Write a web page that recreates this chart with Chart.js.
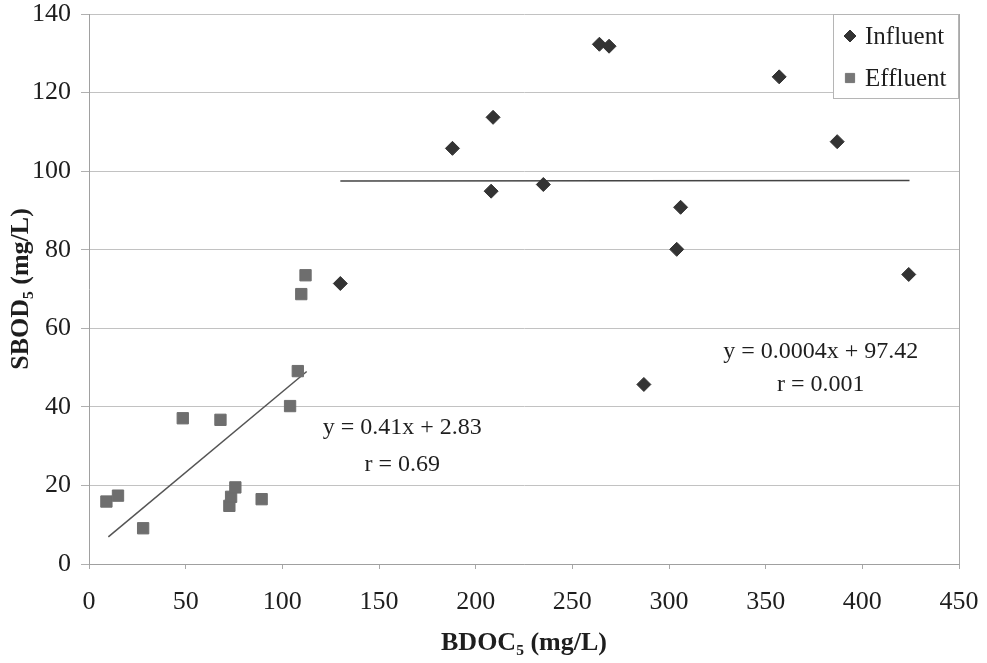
<!DOCTYPE html>
<html>
<head>
<meta charset="utf-8">
<script src="https://cdn.jsdelivr.net/npm/chart.js@4"></script>
<style>
  html, body { margin: 0; padding: 0; background: #fff; }
  canvas { display: block; }
</style>
</head>
<body>
<canvas id="chart" width="987" height="663"></canvas>
<script>
// Influent points (BDOC5, SBOD5)
const influentX = [130, 188, 208, 209, 235, 264, 269, 287, 304, 306, 357, 387, 424];
const influentY = [71.4, 105.8, 94.9, 113.7, 96.6, 132.3, 131.8, 45.7, 80.1, 90.8, 124, 107.5, 73.7];

// Effluent points
const effluentX = [9, 15, 28, 48.5, 68, 72.6, 73.5, 75.7, 89.3, 104, 108, 109.8, 112];
const effluentY = [15.9, 17.4, 9.1, 37.1, 36.7, 14.8, 17.1, 19.5, 16.5, 40.2, 49.1, 68.7, 73.5];

// trend line end points
const effluentTrendX = [10, 112.6];
const effluentTrendY = [6.9, 49];
const influentTrendX = [130, 424.4];
const influentTrendY = [97.5, 97.6];

const xTicks = [0, 50, 100, 150, 200, 250, 300, 350, 400, 450];
const yTicks = [0, 20, 40, 60, 80, 100, 120, 140];

const serif = "'Liberation Serif', 'Times New Roman', serif";

function toPoints(xs, ys) {
    return xs.map((x, i) => ({ x: x, y: ys[i] }));
}

// equations written next to the trend lines
const notes = [
    { x: 162, y: 34.6, text: 'y = 0.41x + 2.83' },
    { x: 162, y: 25.2, text: 'r = 0.69' },
    { x: 378.5, y: 54, text: 'y = 0.0004x + 97.42' },
    { x: 378.5, y: 45.6, text: 'r = 0.001' }
];

const extras = {
    id: 'extras',
    afterDatasetsDraw(chart) {
        const ctx = chart.ctx;
        const xs = chart.scales.x, ys = chart.scales.y;
        ctx.save();
        ctx.fillStyle = '#1e1e1e';
        ctx.font = '24px ' + serif;
        ctx.textAlign = 'center';
        ctx.textBaseline = 'middle';
        notes.forEach(n => {
            ctx.fillText(n.text, xs.getPixelForValue(n.x), ys.getPixelForValue(n.y));
        });

        // legend box in the upper right corner
        const area = chart.chartArea;
        const w = 125, h = 84;
        const left = area.right - w - 1, top = area.top;
        ctx.fillStyle = '#fff';
        ctx.fillRect(left, top, w, h);
        ctx.strokeStyle = '#b5b5b5';
        ctx.lineWidth = 1;
        ctx.strokeRect(left + 0.5, top + 0.5, w, h);

        const items = [
            { label: 'Influent', style: 'rectRot', color: '#333333', r: 6 },
            { label: 'Effluent', style: 'rect', color: '#777777', r: 6.5 }
        ];
        ctx.font = '25px ' + serif;
        ctx.textAlign = 'left';
        items.forEach((it, i) => {
            const cy = top + 22 + i * 42;
            ctx.fillStyle = it.color;
            ctx.strokeStyle = it.color;
            Chart.helpers.drawPoint(ctx, { pointStyle: it.style, radius: it.r, borderWidth: 1 }, left + 17, cy);
            ctx.fillStyle = '#1e1e1e';
            ctx.fillText(it.label, left + 32, cy + 1);
        });
        ctx.restore();
    }
};

const whiteBg = {
    id: 'whiteBg',
    beforeDraw(chart) {
        const ctx = chart.ctx;
        ctx.save();
        ctx.fillStyle = '#fff';
        ctx.fillRect(0, 0, chart.width, chart.height);
        ctx.restore();
    }
};

new Chart(document.getElementById('chart'), {
    type: 'scatter',
    data: {
        datasets: [
            {
                label: 'Influent',
                data: toPoints(influentX, influentY),
                pointStyle: 'rectRot',
                pointRadius: 7,
                backgroundColor: '#333333',
                borderColor: '#333333',
                borderWidth: 1
            },
            {
                label: 'Effluent',
                data: toPoints(effluentX, effluentY),
                pointStyle: 'rect',
                pointRadius: 8,
                backgroundColor: '#6e6e6e',
                borderColor: '#6e6e6e',
                borderWidth: 1
            },
            {
                type: 'line',
                label: 'Effluent trend',
                data: toPoints(effluentTrendX, effluentTrendY),
                borderColor: '#555',
                borderWidth: 1.5,
                pointRadius: 0,
                fill: false
            },
            {
                type: 'line',
                label: 'Influent trend',
                data: toPoints(influentTrendX, influentTrendY),
                borderColor: '#444',
                borderWidth: 1.5,
                pointRadius: 0,
                fill: false
            }
        ]
    },
    options: {
        responsive: false,
        animation: false,
        layout: { padding: { top: 14, right: 28, left: 0, bottom: 0 } },
        plugins: {
            legend: { display: false },
            tooltip: { enabled: false }
        },
        scales: {
            x: {
                type: 'linear',
                min: 0,
                max: 450,
                afterBuildTicks: s => { s.ticks = xTicks.map(v => ({ value: v })); },
                afterFit: s => {
                    s.height = 99;
                    s.paddingLeft = 0;
                    s.paddingRight = 0;
                },
                grid: {
                    drawOnChartArea: true,
                    color: c => (c.tick && c.tick.value === 450 ? '#a8a8a8' : 'rgba(0,0,0,0)'),
                    tickColor: '#a8a8a8',
                    tickLength: 5
                },
                border: { color: '#a0a0a0', width: 1 },
                ticks: {
                    color: '#1e1e1e',
                    font: { family: serif, size: 26 },
                    padding: 18,
                    maxRotation: 0
                },
                title: {
                    display: true,
                    text: 'BDOC\u2085 (mg/L)',
                    color: '#1e1e1e',
                    font: { family: serif, size: 26, weight: 'bold' },
                    padding: { top: 0, bottom: 4 }
                }
            },
            y: {
                min: 0,
                max: 140,
                afterBuildTicks: s => { s.ticks = yTicks.map(v => ({ value: v })); },
                afterFit: s => {
                    s.width = 89;
                    s.paddingTop = 0;
                    s.paddingBottom = 0;
                },
                grid: {
                    color: '#c2c2c2',
                    tickColor: '#b0b0b0',
                    tickLength: 8
                },
                border: { color: '#a0a0a0', width: 1 },
                ticks: {
                    color: '#1e1e1e',
                    font: { family: serif, size: 26 },
                    padding: 10
                },
                title: {
                    display: true,
                    text: 'SBOD\u2085 (mg/L)',
                    color: '#1e1e1e',
                    font: { family: serif, size: 26, weight: 'bold' },
                    padding: { top: 6, bottom: 0 }
                }
            }
        }
    },
    plugins: [whiteBg, extras]
});
</script>
</body>
</html>
